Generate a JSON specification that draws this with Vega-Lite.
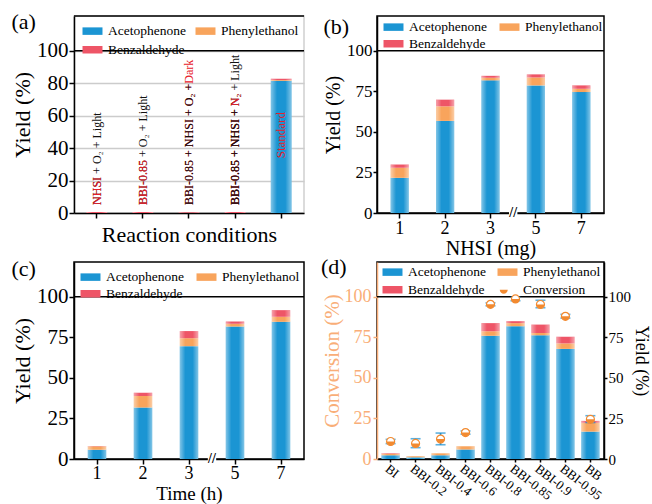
{
  "$schema": "https://vega.github.io/schema/vega-lite/v6.json",
  "background": "white",
  "padding": {"left": 10, "top": 10, "right": 0, "bottom": 0},
  "columns": 2,
  "spacing": {"row": 49, "column": 73},
  "bounds": "flush",
  "resolve": {"scale": {"color": "independent", "shape": "independent"}},
  "config": {
    "font": "Liberation Serif",
    "view": {"stroke": "black", "strokeWidth": 1.5},
    "axis": {"domainColor": "black", "domainWidth": 1.5, "tickColor": "black", "tickWidth": 1.5, "labelColor": "black", "titleColor": "black", "labelFont": "Liberation Serif", "titleFont": "Liberation Serif", "titleFontWeight": "normal", "grid": false, "labelFontSize": 18, "titleFontSize": 20, "tickSize": 4, "labelOverlap": false},
    "legend": {"labelFont": "Liberation Serif", "labelFontSize": 13.5, "labelColor": "black", "symbolType": "M-1,-0.6H2.2V0.6H-1Z", "symbolSize": 156, "symbolStrokeWidth": 0, "orient": "none", "direction": "horizontal", "columns": 2, "columnPadding": 12, "rowPadding": 2, "padding": 0, "labelOffset": 12.5},
    "title": {"font": "Liberation Serif", "fontSize": 22, "fontWeight": "normal", "anchor": "start", "frame": "bounds", "color": "black"}
  },
  "datasets": {
    "stack_order": [
      {"product": "Acetophenone", "k": 1},
      {"product": "Phenylethanol", "k": 2},
      {"product": "Benzaldehyde", "k": 3}
    ],
    "a_bars": [
      {"condition": "NHSI + O₂ + Light", "product": "Acetophenone", "value": 0},
      {"condition": "NHSI + O₂ + Light", "product": "Phenylethanol", "value": 0},
      {"condition": "NHSI + O₂ + Light", "product": "Benzaldehyde", "value": 0.6},
      {"condition": "BBI-0.85 + O₂ + Light", "product": "Acetophenone", "value": 0},
      {"condition": "BBI-0.85 + O₂ + Light", "product": "Phenylethanol", "value": 0},
      {"condition": "BBI-0.85 + O₂ + Light", "product": "Benzaldehyde", "value": 0.6},
      {"condition": "BBI-0.85 + NHSI + O₂ +Dark", "product": "Acetophenone", "value": 0},
      {"condition": "BBI-0.85 + NHSI + O₂ +Dark", "product": "Phenylethanol", "value": 0},
      {"condition": "BBI-0.85 + NHSI + O₂ +Dark", "product": "Benzaldehyde", "value": 0.4},
      {"condition": "BBI-0.85 + NHSI + N₂ + Light", "product": "Acetophenone", "value": 0},
      {"condition": "BBI-0.85 + NHSI + N₂ + Light", "product": "Phenylethanol", "value": 0},
      {"condition": "BBI-0.85 + NHSI + N₂ + Light", "product": "Benzaldehyde", "value": 0.6},
      {"condition": "Standard", "product": "Acetophenone", "value": 81.5},
      {"condition": "Standard", "product": "Phenylethanol", "value": 0.5},
      {"condition": "Standard", "product": "Benzaldehyde", "value": 0.8}
    ],
    "a_labels": [
      {"condition": "NHSI + O₂ + Light", "base": "NHSI + O₂ + Light", "mid": "NHSI", "top": ""},
      {"condition": "BBI-0.85 + O₂ + Light", "base": "BBI-0.85 + O₂ + Light", "mid": "BBI-0.85", "top": ""},
      {"condition": "BBI-0.85 + NHSI + O₂ +Dark", "base": "", "mid": "BBI-0.85 + NHSI + O₂ +Dark", "top": "BBI-0.85 + NHSI + O₂ +"},
      {"condition": "BBI-0.85 + NHSI + N₂ + Light", "base": "BBI-0.85 + NHSI + N₂ + Light", "mid": "BBI-0.85 + NHSI + N₂", "top": "BBI-0.85 + NHSI + "}
    ],
    "a_standard": [{"condition": "Standard", "label": "Standard"}],
    "nhsi": [
      {"NHSI": 1, "product": "Acetophenone", "value": 21.7},
      {"NHSI": 1, "product": "Phenylethanol", "value": 6.2},
      {"NHSI": 1, "product": "Benzaldehyde", "value": 2.0},
      {"NHSI": 2, "product": "Acetophenone", "value": 56.8},
      {"NHSI": 2, "product": "Phenylethanol", "value": 9.0},
      {"NHSI": 2, "product": "Benzaldehyde", "value": 4.1},
      {"NHSI": 3, "product": "Acetophenone", "value": 81.8},
      {"NHSI": 3, "product": "Phenylethanol", "value": 1.6},
      {"NHSI": 3, "product": "Benzaldehyde", "value": 1.2},
      {"NHSI": 5, "product": "Acetophenone", "value": 78.7},
      {"NHSI": 5, "product": "Phenylethanol", "value": 4.9},
      {"NHSI": 5, "product": "Benzaldehyde", "value": 1.9},
      {"NHSI": 7, "product": "Acetophenone", "value": 74.6},
      {"NHSI": 7, "product": "Phenylethanol", "value": 2.0},
      {"NHSI": 7, "product": "Benzaldehyde", "value": 2.1}
    ],
    "time": [
      {"Time": 1, "product": "Acetophenone", "value": 5.7},
      {"Time": 1, "product": "Phenylethanol", "value": 2.1},
      {"Time": 1, "product": "Benzaldehyde", "value": 0.2},
      {"Time": 2, "product": "Acetophenone", "value": 31.8},
      {"Time": 2, "product": "Phenylethanol", "value": 7.0},
      {"Time": 2, "product": "Benzaldehyde", "value": 2.1},
      {"Time": 3, "product": "Acetophenone", "value": 69.6},
      {"Time": 3, "product": "Phenylethanol", "value": 4.9},
      {"Time": 3, "product": "Benzaldehyde", "value": 4.4},
      {"Time": 5, "product": "Acetophenone", "value": 81.7},
      {"Time": 5, "product": "Phenylethanol", "value": 1.7},
      {"Time": 5, "product": "Benzaldehyde", "value": 1.4},
      {"Time": 7, "product": "Acetophenone", "value": 84.6},
      {"Time": 7, "product": "Phenylethanol", "value": 3.1},
      {"Time": 7, "product": "Benzaldehyde", "value": 4.1}
    ],
    "d_bars": [
      {"sample": "BI", "product": "Acetophenone", "value": 2.3},
      {"sample": "BI", "product": "Phenylethanol", "value": 1.0},
      {"sample": "BI", "product": "Benzaldehyde", "value": 0.3},
      {"sample": "BBI-0.2", "product": "Acetophenone", "value": 1.0},
      {"sample": "BBI-0.2", "product": "Phenylethanol", "value": 0.7},
      {"sample": "BBI-0.2", "product": "Benzaldehyde", "value": 0},
      {"sample": "BBI-0.4", "product": "Acetophenone", "value": 2.3},
      {"sample": "BBI-0.4", "product": "Phenylethanol", "value": 1.2},
      {"sample": "BBI-0.4", "product": "Benzaldehyde", "value": 0},
      {"sample": "BBI-0.6", "product": "Acetophenone", "value": 5.8},
      {"sample": "BBI-0.6", "product": "Phenylethanol", "value": 2.1},
      {"sample": "BBI-0.6", "product": "Benzaldehyde", "value": 0},
      {"sample": "BBI-0.8", "product": "Acetophenone", "value": 76.0},
      {"sample": "BBI-0.8", "product": "Phenylethanol", "value": 2.8},
      {"sample": "BBI-0.8", "product": "Benzaldehyde", "value": 5.0},
      {"sample": "BBI-0.85", "product": "Acetophenone", "value": 81.9},
      {"sample": "BBI-0.85", "product": "Phenylethanol", "value": 1.9},
      {"sample": "BBI-0.85", "product": "Benzaldehyde", "value": 1.2},
      {"sample": "BBI-0.9", "product": "Acetophenone", "value": 76.3},
      {"sample": "BBI-0.9", "product": "Phenylethanol", "value": 1.4},
      {"sample": "BBI-0.9", "product": "Benzaldehyde", "value": 5.2},
      {"sample": "BBI-0.95", "product": "Acetophenone", "value": 67.9},
      {"sample": "BBI-0.95", "product": "Phenylethanol", "value": 3.4},
      {"sample": "BBI-0.95", "product": "Benzaldehyde", "value": 4.1},
      {"sample": "BB", "product": "Acetophenone", "value": 16.9},
      {"sample": "BB", "product": "Phenylethanol", "value": 5.4},
      {"sample": "BB", "product": "Benzaldehyde", "value": 1.2}
    ],
    "d_conv": [
      {"sample": "BI", "conv": 10.8, "low": 9.5, "high": 12.1},
      {"sample": "BBI-0.2", "conv": 9.6, "low": 7.0, "high": 12.5},
      {"sample": "BBI-0.4", "conv": 12.3, "low": 8.8, "high": 16.0},
      {"sample": "BBI-0.6", "conv": 16.3, "low": 15.3, "high": 17.3},
      {"sample": "BBI-0.8", "conv": 95.4, "low": 94.5, "high": 96.3},
      {"sample": "BBI-0.85", "conv": 98.7, "low": 97.6, "high": 99.8},
      {"sample": "BBI-0.9", "conv": 95.3, "low": 93.3, "high": 97.9},
      {"sample": "BBI-0.95", "conv": 88.0, "low": 86.9, "high": 89.2},
      {"sample": "BB", "conv": 24.5, "low": 22.5, "high": 26.7}
    ]
  },
  "concat": [
    {
      "width": 230, "height": 197,
      "view": {"stroke": "#d0d0d0", "strokeWidth": 1.5},
      "title": {"text": "(a)", "offset": -19},
      "layer": [
        {"data": {"name": "a_bars"},
         "transform": [{"lookup": "product", "from": {"data": {"name": "stack_order"}, "key": "product", "fields": ["k"]}}],
         "mark": {"type": "bar"},
         "encoding": {
           "x": {"field": "condition", "type": "nominal", "scale": {"domain": ["NHSI + O₂ + Light", "BBI-0.85 + O₂ + Light", "BBI-0.85 + NHSI + O₂ +Dark", "BBI-0.85 + NHSI + N₂ + Light", "Standard"], "paddingInner": 0.55, "paddingOuter": 0.27}, "axis": {"title": "Reaction conditions", "labels": false, "titleFontSize": 22, "tickSize": 5, "titlePadding": 6}},
           "y": {"field": "value", "type": "quantitative", "stack": "zero", "scale": {"domain": [0, 121.5], "nice": false}, "axis": {"title": "Yield (%)", "values": [0, 20, 40, 60, 80, 100], "tickCount": 10, "labelOverlap": false, "grid": true, "gridColor": "#cccccc", "gridWidth": 1.5, "labelFontSize": 21, "titleFontSize": 22, "tickSize": 5, "labelPadding": 1, "titlePadding": 2}},
           "order": {"field": "k", "type": "quantitative"},
           "color": {"field": "product", "type": "nominal", "scale": {"domain": ["Acetophenone", "Phenylethanol", "Benzaldehyde"], "range": ["#1B95D3", "#F8A45C", "#EE5567"]}, "legend": {"title": null, "legendX": 8, "legendY": 8, "rowPadding": 4, "columnPadding": 9}}
         }},
        {"data": {"name": "a_bars"}, "mark": {"type": "bar", "color": {"gradient": "linear", "x1": 0, "y1": 0, "x2": 1, "y2": 0, "stops": [{"offset": 0, "color": "rgba(255,255,255,0.45)"}, {"offset": 0.3, "color": "rgba(255,255,255,0)"}, {"offset": 0.7, "color": "rgba(255,255,255,0)"}, {"offset": 1, "color": "rgba(255,255,255,0.45)"}]}},
         "encoding": {
           "x": {"field": "condition", "type": "nominal"},
           "y": {"aggregate": "sum", "field": "value", "type": "quantitative", "axis": {"title": "Yield (%)", "values": [0, 20, 40, 60, 80, 100], "tickCount": 10, "labelOverlap": false, "grid": true, "gridColor": "#cccccc", "gridWidth": 1.5, "labelFontSize": 21, "titleFontSize": 22, "tickSize": 5, "labelPadding": 1, "titlePadding": 2}}
         }},
        {"data": {"values": [{"edge": 100}, {"edge": 121.5}]}, "mark": {"type": "rule", "color": "black", "strokeWidth": 1.5},
         "encoding": {"y": {"field": "edge", "type": "quantitative"}}},
        {"data": {"name": "a_labels"}, "mark": {"type": "text", "angle": 270, "align": "left", "baseline": "middle", "fontSize": 12, "color": "#111111"},
         "encoding": {"x": {"field": "condition", "type": "nominal"}, "y": {"datum": 5}, "text": {"field": "base"}}},
        {"data": {"name": "a_labels"}, "mark": {"type": "text", "angle": 270, "align": "left", "baseline": "middle", "fontSize": 12, "color": "#E8202A"},
         "encoding": {"x": {"field": "condition", "type": "nominal"}, "y": {"datum": 5}, "text": {"field": "mid"}}},
        {"data": {"name": "a_labels"}, "mark": {"type": "text", "angle": 270, "align": "left", "baseline": "middle", "fontSize": 12, "color": "#111111"},
         "encoding": {"x": {"field": "condition", "type": "nominal"}, "y": {"datum": 5}, "text": {"field": "top"}}},
        {"data": {"name": "a_standard"}, "mark": {"type": "text", "angle": 270, "align": "center", "baseline": "middle", "fontSize": 13, "color": "#E8202A"},
         "encoding": {"x": {"field": "condition", "type": "nominal"}, "y": {"datum": 48}, "text": {"field": "label"}}}
      ]
    },
    {
      "width": 227, "height": 197,
      "title": {"text": "(b)", "offset": -23},
      "layer": [
        {"data": {"name": "nhsi"},
         "transform": [{"lookup": "product", "from": {"data": {"name": "stack_order"}, "key": "product", "fields": ["k"]}}],
         "mark": {"type": "bar"},
         "encoding": {
           "x": {"field": "NHSI", "type": "ordinal", "scale": {"paddingInner": 0.6, "paddingOuter": 0.3}, "axis": {"title": "NHSI (mg)", "labelAngle": 0, "labelFontSize": 18, "titleFontSize": 20, "tickSize": 5, "labelPadding": 1, "titlePadding": 1}},
           "y": {"field": "value", "type": "quantitative", "stack": "zero", "scale": {"domain": [0, 121.5], "nice": false}, "axis": {"title": "Yield (%)", "values": [0, 25, 50, 75, 100], "tickCount": 10, "labelFontSize": 17, "tickSize": 4, "labelPadding": 1, "titlePadding": 3}},
           "order": {"field": "k", "type": "quantitative"},
           "color": {"field": "product", "type": "nominal", "scale": {"domain": ["Acetophenone", "Phenylethanol", "Benzaldehyde"], "range": ["#1B95D3", "#F8A45C", "#EE5567"]}, "legend": {"title": null, "legendX": 6, "legendY": 4, "rowPadding": 2}}
         }},
        {"data": {"name": "nhsi"}, "mark": {"type": "bar", "color": {"gradient": "linear", "x1": 0, "y1": 0, "x2": 1, "y2": 0, "stops": [{"offset": 0, "color": "rgba(255,255,255,0.45)"}, {"offset": 0.3, "color": "rgba(255,255,255,0)"}, {"offset": 0.7, "color": "rgba(255,255,255,0)"}, {"offset": 1, "color": "rgba(255,255,255,0.45)"}]}},
         "encoding": {
           "x": {"field": "NHSI", "type": "ordinal"},
           "y": {"aggregate": "sum", "field": "value", "type": "quantitative", "axis": {"title": "Yield (%)"}}
         }},
        {"data": {"values": [{}]}, "mark": {"type": "rule", "color": "black", "strokeWidth": 1.5}, "encoding": {"y": {"datum": 100}}},
        {"data": {"values": [{"NHSI": 5}]}, "mark": {"type": "point", "shape": "square", "filled": true, "color": "white", "opacity": 1, "size": 70},
         "encoding": {"x": {"field": "NHSI", "type": "ordinal", "bandPosition": -0.75}, "y": {"datum": 0}}},
        {"data": {"values": [{"NHSI": 5}]}, "mark": {"type": "text", "text": "//", "fontSize": 14, "fontWeight": "bold", "baseline": "middle", "align": "center", "color": "black"},
         "encoding": {"x": {"field": "NHSI", "type": "ordinal", "bandPosition": -0.75}, "y": {"datum": 0}}}
      ]
    },
    {
      "width": 230, "height": 197,
      "title": {"text": "(c)", "offset": -19},
      "layer": [
        {"data": {"name": "time"},
         "transform": [{"lookup": "product", "from": {"data": {"name": "stack_order"}, "key": "product", "fields": ["k"]}}],
         "mark": {"type": "bar"},
         "encoding": {
           "x": {"field": "Time", "type": "ordinal", "scale": {"paddingInner": 0.6, "paddingOuter": 0.3}, "axis": {"title": "Time (h)", "labelAngle": 0, "labelFontSize": 18, "titleFontSize": 19, "tickSize": 5, "labelPadding": 0, "titlePadding": 2}},
           "y": {"field": "value", "type": "quantitative", "stack": "zero", "scale": {"domain": [0, 121.5], "nice": false}, "axis": {"title": "Yield (%)", "values": [0, 25, 50, 75, 100], "tickCount": 10, "labelFontSize": 21, "titleFontSize": 22, "tickSize": 5, "labelPadding": 1, "titlePadding": 2}},
           "order": {"field": "k", "type": "quantitative"},
           "color": {"field": "product", "type": "nominal", "scale": {"domain": ["Acetophenone", "Phenylethanol", "Benzaldehyde"], "range": ["#1B95D3", "#F8A45C", "#EE5567"]}, "legend": {"title": null, "legendX": 6, "legendY": 8, "rowPadding": 2}}
         }},
        {"data": {"name": "time"}, "mark": {"type": "bar", "color": {"gradient": "linear", "x1": 0, "y1": 0, "x2": 1, "y2": 0, "stops": [{"offset": 0, "color": "rgba(255,255,255,0.45)"}, {"offset": 0.3, "color": "rgba(255,255,255,0)"}, {"offset": 0.7, "color": "rgba(255,255,255,0)"}, {"offset": 1, "color": "rgba(255,255,255,0.45)"}]}},
         "encoding": {
           "x": {"field": "Time", "type": "ordinal"},
           "y": {"aggregate": "sum", "field": "value", "type": "quantitative", "axis": {"title": "Yield (%)"}}
         }},
        {"data": {"values": [{}]}, "mark": {"type": "rule", "color": "black", "strokeWidth": 1.5}, "encoding": {"y": {"datum": 100}}},
        {"data": {"values": [{"Time": 5}]}, "mark": {"type": "point", "shape": "square", "filled": true, "color": "white", "opacity": 1, "size": 70},
         "encoding": {"x": {"field": "Time", "type": "ordinal", "bandPosition": -0.75}, "y": {"datum": 0}}},
        {"data": {"values": [{"Time": 5}]}, "mark": {"type": "text", "text": "//", "fontSize": 14, "fontWeight": "bold", "baseline": "middle", "align": "center", "color": "black"},
         "encoding": {"x": {"field": "Time", "type": "ordinal", "bandPosition": -0.75}, "y": {"datum": 0}}}
      ]
    },
    {
      "width": 227, "height": 197,
      "title": {"text": "(d)", "offset": -17},
      "resolve": {"scale": {"y": "independent"}},
      "layer": [
        {
          "data": {"name": "d_bars"},
          "layer": [
            {"transform": [{"lookup": "product", "from": {"data": {"name": "stack_order"}, "key": "product", "fields": ["k"]}}],
             "mark": {"type": "bar"},
             "encoding": {
               "x": {"field": "sample", "type": "nominal", "scale": {"domain": ["BI", "BBI-0.2", "BBI-0.4", "BBI-0.6", "BBI-0.8", "BBI-0.85", "BBI-0.9", "BBI-0.95", "BB"], "paddingInner": 0.27, "paddingOuter": 0.18}, "axis": {"title": null, "labelAngle": 38, "labelAlign": "left", "labelBaseline": "top", "labelFontSize": 13, "tickSize": 3, "labelPadding": 0}},
               "y": {"field": "value", "type": "quantitative", "stack": "zero", "scale": {"domain": [0, 121.5], "nice": false}, "axis": {"orient": "right", "title": "Yield (%)", "values": [0, 25, 50, 75, 100], "tickCount": 10, "labelFontSize": 15, "titleFontSize": 18, "tickSize": 3, "labelPadding": 1, "titlePadding": 1}},
               "order": {"field": "k", "type": "quantitative"},
               "color": {"field": "product", "type": "nominal", "scale": {"domain": ["Acetophenone", "Phenylethanol", "Benzaldehyde", "Conversion"], "range": ["#1B95D3", "#F8A45C", "#EE5567", "#F28A30"]}, "legend": {"title": null, "legendX": 5, "legendY": 3, "rowPadding": 3, "columnPadding": 11}}
             }},
            {"mark": {"type": "bar", "color": {"gradient": "linear", "x1": 0, "y1": 0, "x2": 1, "y2": 0, "stops": [{"offset": 0, "color": "rgba(255,255,255,0.45)"}, {"offset": 0.3, "color": "rgba(255,255,255,0)"}, {"offset": 0.7, "color": "rgba(255,255,255,0)"}, {"offset": 1, "color": "rgba(255,255,255,0.45)"}]}},
             "encoding": {
               "x": {"field": "sample", "type": "nominal"},
               "y": {"aggregate": "sum", "field": "value", "type": "quantitative", "axis": {"orient": "right", "title": "Yield (%)"}}
             }},
            {"data": {"values": [{}]}, "mark": {"type": "rule", "color": "black", "strokeWidth": 1.5}, "encoding": {"y": {"datum": 100}}}
          ]
        },
        {
          "data": {"name": "d_conv"},
          "layer": [
            {"mark": {"type": "errorbar", "ticks": {"color": "#1A8FD0"}, "rule": {"color": "#1A8FD0"}, "color": "#1A8FD0", "size": 10, "thickness": 1.6},
             "encoding": {
               "x": {"field": "sample", "type": "nominal"},
               "y": {"field": "low", "type": "quantitative", "scale": {"domain": [0, 121.5], "nice": false}, "axis": {"orient": "left", "title": "Conversion (%)", "values": [0, 25, 50, 75, 100], "tickCount": 10, "labelColor": "#F9AE78", "titleColor": "#F9AE78", "domainColor": "#F9AE78", "tickColor": "#F9AE78", "labelFontSize": 18, "titleFontSize": 21, "tickSize": 4, "labelPadding": 2, "titlePadding": 2}},
               "y2": {"field": "high"}
             }},
            {"mark": {"type": "point", "shape": "circle", "filled": true, "fill": "white", "stroke": "#F28A30", "strokeWidth": 1.2, "size": 64, "opacity": 1},
             "encoding": {
               "x": {"field": "sample", "type": "nominal"},
               "y": {"field": "conv", "type": "quantitative", "axis": {"orient": "left", "title": "Conversion (%)"}}
             }},
            {"mark": {"type": "point", "filled": true, "size": 156, "opacity": 1},
             "encoding": {
               "x": {"field": "sample", "type": "nominal"},
               "y": {"field": "conv", "type": "quantitative", "axis": {"orient": "left", "title": "Conversion (%)"}},
               "color": {"datum": "Conversion", "type": "nominal"},
               "shape": {"datum": "Conversion", "type": "nominal", "scale": {"domain": ["Acetophenone", "Phenylethanol", "Benzaldehyde", "Conversion"], "range": ["M-1,-0.6H2.2V0.6H-1Z", "M-1,-0.6H2.2V0.6H-1Z", "M-1,-0.6H2.2V0.6H-1Z", "M-0.64,0A0.64,0.64,0,0,0,0.64,0Z"]}, "legend": {"title": null}}
             }}
          ]
        }
      ]
    }
  ]
}
